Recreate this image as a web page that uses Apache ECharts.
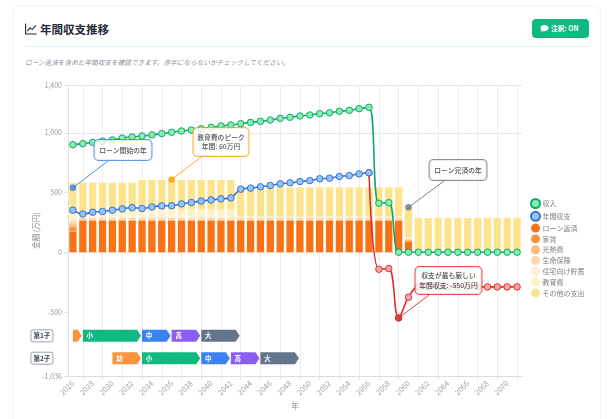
<!DOCTYPE html>
<html lang="ja">
<head>
<meta charset="utf-8">
<title>年間収支推移</title>
<script src="https://cdn.jsdelivr.net/npm/echarts@6/dist/echarts.min.js"></script>
<style>
  html, body { margin: 0; padding: 0; background: #fff; font-family: "Noto Sans CJK JP", "Noto Sans", sans-serif; }
  #page { position: relative; width: 607px; height: 419px; overflow: hidden; }
  #card { position: absolute; left: 12px; top: 5px; width: 589px; height: 440px; box-sizing: border-box;
          border: 1px solid #e6f8f1; border-radius: 8px; background: #fff; }
  #head { position: absolute; left: 25px; top: 46px; width: 565px; height: 1px; background: #d8f5e9; }
  #title { position: absolute; left: 40px; top: 20px; font-size: 11.5px; line-height: 18px; font-weight: 700; color: #1f2937; white-space: nowrap; }
  #titleIcon { position: absolute; left: 25px; top: 23px; }
  #note { position: absolute; left: 25px; top: 56px; font-size: 6.65px; line-height: 12px; font-style: italic; color: #8b929c; white-space: nowrap; }
  #toggle { position: absolute; left: 532px; top: 19px; width: 57px; height: 19px; border-radius: 4px; background: #10b981;
            color: #fff; font-size: 6.8px; line-height: 19px; font-weight: 700; white-space: nowrap; }
  #toggle svg { position: absolute; left: 8px; top: 5px; }
  #toggle span { position: absolute; left: 19px; top: 0; }
  #chart { position: absolute; left: 0; top: 0; width: 607px; height: 419px; }
</style>
</head>
<body>
<div id="page">
  <div id="card"></div>
  <svg id="titleIcon" width="12" height="12" viewBox="0 0 12 12" fill="none" stroke="#1f2937" stroke-width="1.1">
    <path d="M0.6 0.5V11H11.6"/><path d="M2.4 8.2L5 4.8L7.2 6.6L10.8 2.4"/>
  </svg>
  <div id="title">年間収支推移</div>
  <div id="head"></div>
  <div id="note">ローン返済を含めた年間収支を確認できます。赤字にならないかチェックしてください。</div>
  <div id="toggle">
    <svg width="9" height="9" viewBox="0 0 9 9"><path fill="#fff" d="M4.5 1C2.2 1 .5 2.3.5 4c0 .8.4 1.5 1 2L1 7.8 3 7c.5.1 1 .2 1.5.2 2.3 0 4-1.4 4-3.1S6.800 1 4.500 1z"/></svg>
    <span>注釈: ON</span>
  </div>
  <div id="chart"></div>
</div>
<script>
// Calendar years on the horizontal axis
const years = ['2026','2027','2028','2029','2030','2031','2032','2033','2034','2035','2036','2037','2038','2039','2040','2041',
  '2042','2043','2044','2045','2046','2047','2048','2049','2050','2051','2052','2053','2054','2055','2056','2057','2058','2059',
  '2060','2061','2062','2063','2064','2065','2066','2067','2068','2069','2070','2071'];

// Yearly income and balance, in 万円
const income = [900,909,920,930,940,956,965,973,982,993,1004,1015,1023,1034,1046,1057,1065,1076,1087,1096,1107,1121,1130,1141,
  1149,1160,1168,1180,1188,1202,1213,410,415,0,0,0,0,0,0,0,0,0,0,0,0,0];
const balanceSurplus = [352,320,335,341,352,363,374,366,379,388,390,405,416,428,438,447,455,528,537,548,559,573,581,592,
  600,615,620,634,642,656,665,null,null,null,null,null,null,null,null,null,null,null,null,null,null,null];
const balanceDeficit = [null,null,null,null,null,null,null,null,null,null,null,null,null,null,null,null,null,null,null,null,
  null,null,null,null,null,null,null,null,null,null,665,-142,-137,-550,-377,-290,-290,-290,-290,-290,-290,-290,-290,-290,-290,-290];

// Yearly expenses, stacked from the bottom up
const loanRepayment = [172,262,262,262,262,262,262,262,262,262,262,262,262,262,262,262,262,262,262,262,262,262,262,262,262,262,
  262,262,262,262,262,262,262,262,90,0,0,0,0,0,0,0,0,0,0,0];
const rent = [38,0,0,0,0,0,0,0,0,0,0,0,0,0,0,0,0,0,0,0,0,0,0,0,0,0,0,0,0,0,0,0,0,0,0,0,0,0,0,0,0,0,0,0,0,0];
const utilities = [25,12,12,12,12,12,12,12,12,12,12,12,12,12,12,12,12,12,12,12,12,12,12,12,12,12,
  12,12,12,12,12,12,12,12,12,0,0,0,0,0,0,0,0,0,0,0];
const lifeInsurance = [25,12,12,12,12,12,12,12,12,12,12,12,12,12,12,12,12,12,12,12,12,12,12,12,12,12,
  12,12,12,12,12,12,12,12,12,0,0,0,0,0,0,0,0,0,0,0];
const homeSavings = [25,12,12,12,12,12,12,12,12,12,12,12,12,12,12,12,12,12,12,12,12,12,12,12,12,12,
  12,12,12,12,12,12,12,12,12,0,0,0,0,0,0,0,0,0,0,0];
const education = [40,40,40,40,40,40,40,60,60,60,60,60,60,60,60,60,60,0,0,0,0,0,0,0,0,0,0,0,0,0,0,0,0,0,0,0,0,0,0,0,0,0,0,0,0,0];
const otherSpending = [255,244,244,244,244,244,244,247,247,247,247,247,247,247,247,247,247,245,245,245,245,245,245,245,245,245,
  245,245,245,245,245,245,245,245,244,287,287,287,287,287,287,287,287,287,287,287];

// Values of the vertical axis that carry a label
const yTickLabels = [-1036,-500,0,500,1000,1400];

// School stages per child: row, stage, first year index, last year index
const childRows = [['第1子',-700],['第2子',-887]];
const schoolStages = [
  [0,'',0,1],[0,'小',1,7],[0,'中',7,10],[0,'高',10,13],[0,'大',13,17],
  [1,'幼',4,7],[1,'小',7,13],[1,'中',13,16],[1,'高',16,19],[1,'大',19,23]
];

// Annotated years: label text, year index, value
const calloutTexts = ['ローン開始の年','教育費のピーク\n年間: 60万円','ローン完済の年','収支が最も厳しい\n年間収支: -550万円'];
const calloutYears = [0,10,34,33];
const calloutValues = [540,608,376,-550];

const legendNames = ['収入','年間収支','ローン返済','家賃','光熱費','生命保険','住宅向け貯蓄','教育費','その他の支出'];

// Drawing styles
const stageColor = { '': '#fb923c', '幼': '#fb923c', '小': '#10b981', '中': '#3b82f6', '高': '#8b5cf6', '大': '#64748b' };
const calloutColor = ['#3b7fe8','#f59e0b','#6b7280','#dc2626'];
const calloutBox = [[123,150],[221,142],[458,170],[448.500,280.500]];
const calloutFoot = [[108,161],[201,157],[444,181],[429,295]];
const FONT = '"Noto Sans CJK JP","Noto Sans",sans-serif';
const GRID_LINE = '#e8e8e8';

const barSeries = [
  ['ローン返済', loanRepayment, '#f97316'],
  ['家賃', rent, '#fb923c'],
  ['光熱費', utilities, '#fdba74'],
  ['生命保険', lifeInsurance, '#fed7aa'],
  ['住宅向け貯蓄', homeSavings, '#ffedd5'],
  ['教育費', education, '#fef3c7'],
  ['その他の支出', otherSpending, '#fde48c']
].map(([name, data, color]) => ({
  name, type: 'bar', stack: 'spend', data, barWidth: '74%', z: 2,
  itemStyle: { color }, emphasis: { disabled: true }
}));

function lineSeries(name, data, line, fill, z) {
  return {
    name, type: 'line', data, smooth: 0.4, symbol: 'circle', symbolSize: 6.5, showSymbol: true, z,
    connectNulls: false,
    lineStyle: { color: line, width: 1.6 },
    itemStyle: { color: fill, borderColor: line, borderWidth: 1 },
    emphasis: { disabled: true }
  };
}

const calloutSeries = calloutTexts.map((text, i) => ({
  name: 'callout' + i, type: 'scatter', z: 20, symbol: 'circle', symbolSize: 6.5,
  data: [[calloutYears[i], calloutValues[i]]],
  itemStyle: { color: calloutColor[i] },
  label: {
    show: true, formatter: text, color: '#27272a', fontSize: 6.8, fontWeight: 500, lineHeight: 9.500, fontFamily: FONT,
    backgroundColor: '#fff', borderColor: calloutColor[i], borderWidth: 1, borderRadius: 4,
    width: [57,55,57,66][i], height: [20,28,20,27][i], align: 'center', verticalAlign: 'middle'
  },
  labelLayout: { x: calloutBox[i][0], y: calloutBox[i][1], align: 'center', verticalAlign: 'middle' },
  markLine: {
    silent: true, symbol: 'none', z: 19, animation: false, label: { show: false },
    lineStyle: { color: calloutColor[i], width: 0.9, type: 'solid' },
    data: [[{ coord: [calloutYears[i], calloutValues[i]] }, { x: calloutFoot[i][0], y: calloutFoot[i][1] }]]
  }
}));

const stageSeries = {
  name: 'stages', type: 'custom', z: 10, silent: true,
  data: schoolStages.map(s => [s[2], s[3], childRows[s[0]][1], s[1]]),
  encode: { x: [0, 1], y: 2 },
  renderItem(params, api) {
    const a = api.coord([api.value(0), api.value(2)]);
    const b = api.coord([api.value(1), api.value(2)]);
    const label = schoolStages[params.dataIndex][1];
    const h = 6, tip = 4;
    const x0 = a[0], x1 = b[0] - 1, y = a[1];
    return {
      type: 'group',
      children: [
        { type: 'polygon',
          shape: { points: [[x0, y - h], [x1 - tip, y - h], [x1, y], [x1 - tip, y + h], [x0, y + h]] },
          style: { fill: stageColor[label] } },
        { type: 'text',
          style: { x: x0 + 7, y, text: label, fill: '#fff', font: '700 6.5px ' + FONT, align: 'center', verticalAlign: 'middle' } }
      ]
    };
  }
};

const rowSeries = {
  name: 'rows', type: 'custom', z: 10, silent: true,
  data: childRows.map(r => [0, r[1], r[0]]),
  encode: { x: 0, y: 1 },
  renderItem(params, api) {
    const p = api.coord([api.value(0), api.value(1)]);
    const cx = p[0] - 31;
    return {
      type: 'group',
      children: [
        { type: 'rect', shape: { x: cx - 11, y: p[1] - 6, width: 22, height: 12, r: 2 },
          style: { fill: '#fff', stroke: '#8f949c', lineWidth: 0.9 } },
        { type: 'text', style: { x: cx, y: p[1], text: childRows[params.dataIndex][0], fill: '#374151',
          font: '600 6.5px ' + FONT, align: 'center', verticalAlign: 'middle' } }
      ]
    };
  }
};

const chart = echarts.init(document.getElementById('chart'), null, { width: 607, height: 419 });
chart.setOption({
  animation: false,
  backgroundColor: 'transparent',
  textStyle: { fontFamily: FONT },
  grid: { left: 68, right: 85, top: 85, bottom: 43, containLabel: false },
  legend: {
    data: legendNames, orient: 'vertical', left: 525, top: 193, icon: 'circle', itemWidth: 10, itemHeight: 9, itemGap: 1.8,
    selectedMode: false, textStyle: { fontSize: 7, color: '#7b7f86', padding: [0, 0, 0, -3] }
  },
  xAxis: {
    type: 'category', data: years, name: '年', nameLocation: 'middle', nameGap: 26, nameMoveOverlap: false,
    nameTextStyle: { fontSize: 7.5, color: '#888' },
    axisLine: { onZero: false, lineStyle: { color: '#dcdcdc' } },
    axisTick: { show: true, length: 4, alignWithLabel: true, interval: i => i % 2 === 1, lineStyle: { color: '#e2e2e2' } },
    axisLabel: { interval: 1, rotate: 45, fontSize: 7.5, color: '#a3a3a3', margin: 6 },
    splitLine: { show: true, alignWithLabel: true, interval: i => i % 2 === 1, lineStyle: { color: '#ececec', width: 1 } }
  },
  yAxis: {
    type: 'value', min: -1036, max: 1400, name: '金額 (万円)', nameLocation: 'middle', nameGap: 28, nameMoveOverlap: false,
    nameTextStyle: { fontSize: 7.5, color: '#888' },
    axisLine: { show: true, lineStyle: { color: '#dedede' } },
    axisTick: { show: true, length: 4, lineStyle: { color: '#e2e2e2' }, customValues: yTickLabels },
    axisLabel: { fontSize: 7, color: '#9a9a9a', margin: 6, customValues: yTickLabels },
    // Only the outer bounds, zero and 1,000 get a horizontal rule
    splitLine: { show: true, lineStyle: { color: [GRID_LINE, 'transparent', GRID_LINE, 'transparent', GRID_LINE, GRID_LINE], width: 1 } }
  },
  series: [
    ...barSeries,
    lineSeries('収入', income, '#10a574', '#86efac', 6),
    lineSeries('年間収支', balanceSurplus, '#3b6fd0', '#93c5fd', 7),
    lineSeries('年間収支', balanceDeficit, '#dc2f35', '#fca5a5', 5),
    stageSeries,
    rowSeries,
    ...calloutSeries
  ]
});
</script>
</body>
</html>
